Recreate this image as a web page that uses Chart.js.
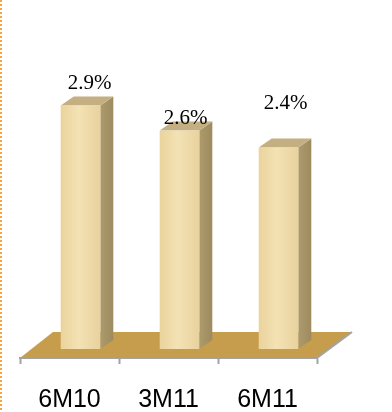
<!DOCTYPE html>
<html>
<head>
    <title>6M10 / 3M11 / 6M11</title>
    <script src="https://cdn.jsdelivr.net/npm/chart.js"></script>
    <style>
        body { margin: 0; background: #fff; }
        #wrap { width: 392px; height: 412px; position: relative; }
    </style>
</head>
<body>
    <div id="wrap">
        <canvas id="growthChart"></canvas>
    </div>

    <script>
        // chart values
        const periods = ['6M10', '3M11', '6M11'];
        const growth = [2.9, 2.6, 2.4];
        const valueLabels = ['2.9%', '2.6%', '2.4%'];

        // how far each value label sits from its bar top (as in the picture)
        const labelNudge = [[9, -16], [6, -7], [7, -38]];

        // 3d look
        const front = { dx: 11, dy: -9 };   // front face pushed into the floor
        const depth = { dx: 13, dy: -9 };   // side/top face depth
        const floorDepth = { dx: 33, dy: -26 };

        const box3d = {
            id: 'box3d',
            beforeDatasetsDraw(chart) {
                const { ctx, chartArea: a } = chart;
                // floor
                ctx.save();
                ctx.beginPath();
                ctx.moveTo(a.left, a.bottom);
                ctx.lineTo(a.right, a.bottom);
                ctx.lineTo(a.right + floorDepth.dx + 2, a.bottom + floorDepth.dy);
                ctx.lineTo(a.left + floorDepth.dx, a.bottom + floorDepth.dy);
                ctx.closePath();
                ctx.fillStyle = '#c69d4c';
                ctx.fill();
                // grey edge on the right side
                ctx.beginPath();
                ctx.moveTo(a.right, a.bottom);
                ctx.lineTo(a.right + floorDepth.dx + 2, a.bottom + floorDepth.dy);
                ctx.strokeStyle = '#a3a3a3';
                ctx.lineWidth = 2;
                ctx.stroke();
                ctx.restore();
            },
            afterDatasetsDraw(chart) {
                const { ctx } = chart;
                const meta = chart.getDatasetMeta(0);
                meta.data.forEach((bar, i) => {
                    const w = bar.width;
                    const x0 = bar.x - w / 2 + front.dx;
                    const x1 = bar.x + w / 2 + front.dx;
                    const yTop = bar.y + front.dy;
                    const yBot = bar.base + front.dy;
                    ctx.save();
                    // side face
                    let g = ctx.createLinearGradient(x1, 0, x1 + depth.dx, 0);
                    g.addColorStop(0, '#ad9b6d');
                    g.addColorStop(1, '#9d8b5f');
                    ctx.fillStyle = g;
                    ctx.beginPath();
                    ctx.moveTo(x1, yTop);
                    ctx.lineTo(x1 + depth.dx, yTop + depth.dy);
                    ctx.lineTo(x1 + depth.dx, yBot + depth.dy);
                    ctx.lineTo(x1, yBot);
                    ctx.closePath();
                    ctx.fill();
                    // top face
                    ctx.fillStyle = '#c3af82';
                    ctx.beginPath();
                    ctx.moveTo(x0, yTop);
                    ctx.lineTo(x1, yTop);
                    ctx.lineTo(x1 + depth.dx, yTop + depth.dy);
                    ctx.lineTo(x0 + depth.dx, yTop + depth.dy);
                    ctx.closePath();
                    ctx.fill();
                    // front face
                    g = ctx.createLinearGradient(x0, 0, x1, 0);
                    g.addColorStop(0, '#ead39c');
                    g.addColorStop(0.45, '#f3e2b4');
                    g.addColorStop(1, '#e8d29e');
                    ctx.fillStyle = g;
                    ctx.fillRect(x0, yTop, x1 - x0, yBot - yTop);
                    // value label
                    ctx.fillStyle = '#000';
                    ctx.font = '21px "Liberation Serif", "Times New Roman", serif';
                    ctx.textAlign = 'center';
                    ctx.textBaseline = 'alphabetic';
                    ctx.fillText(valueLabels[i], bar.x + front.dx + labelNudge[i][0], yTop + labelNudge[i][1]);
                    ctx.restore();
                });
            },
            afterDraw(chart) {
                // dotted orange edge on the left
                const { ctx, height } = chart;
                ctx.save();
                ctx.strokeStyle = '#f5a53a';
                ctx.lineWidth = 2;
                ctx.setLineDash([2, 2]);
                ctx.beginPath();
                ctx.moveTo(1, 0);
                ctx.lineTo(1, height);
                ctx.stroke();
                ctx.restore();
            }
        };

        const ctx = document.getElementById('growthChart').getContext('2d');
        new Chart(ctx, {
            type: 'bar',
            data: {
                labels: periods,
                datasets: [{
                    data: growth,
                    backgroundColor: 'rgba(0,0,0,0)',
                    categoryPercentage: 1,
                    barPercentage: 0.4
                }]
            },
            options: {
                responsive: true,
                maintainAspectRatio: false,
                animation: false,
                layout: { padding: { top: 22, left: 20, right: 75, bottom: 0 } },
                plugins: {
                    legend: { display: false },
                    tooltip: { enabled: false }
                },
                scales: {
                    x: {
                        afterFit: s => { s.height = 54; },
                        grid: {
                            drawOnChartArea: false,
                            tickLength: 6,
                            tickColor: '#a3a3a3',
                            tickWidth: 2
                        },
                        border: { display: true, color: '#a3a3a3', width: 2 },
                        ticks: {
                            color: '#000',
                            padding: 21,
                            font: { family: '"Liberation Sans", Arial, sans-serif', size: 25 }
                        }
                    },
                    y: {
                        display: false,
                        min: 0,
                        max: 4
                    }
                }
            },
            plugins: [box3d]
        });
    </script>
</body>
</html>
